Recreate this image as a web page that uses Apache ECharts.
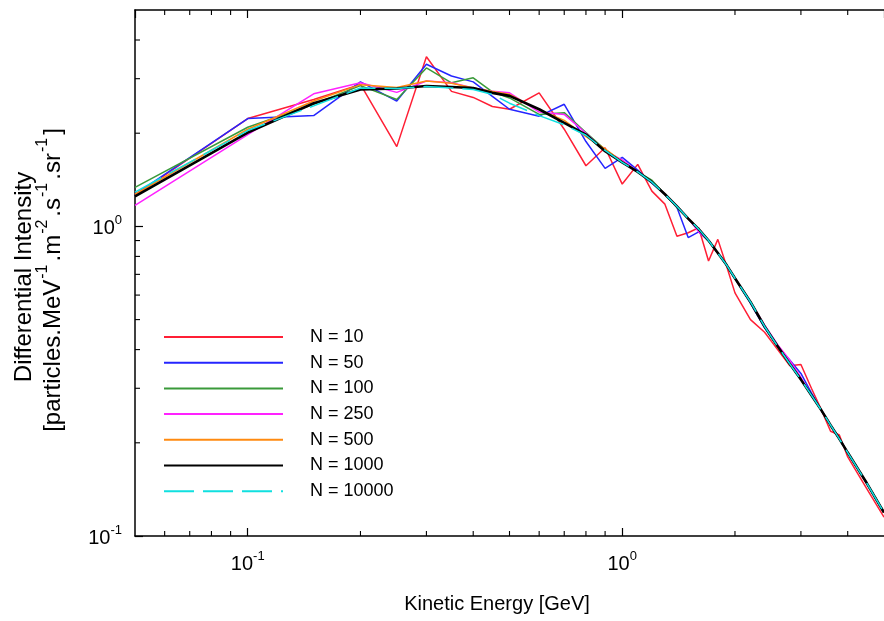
<!DOCTYPE html>
<html>
<head>
<meta charset="utf-8">
<script src="https://cdn.jsdelivr.net/npm/echarts@6/dist/echarts.min.js"></script>
<style>
  html, body { margin: 0; padding: 0; background: #ffffff; }
  #chart { width: 884px; height: 621px; }
</style>
</head>
<body>
<div id="chart"></div>
<script>
// Kinetic energy bins [GeV]
const energies = [0.05, 0.1, 0.15, 0.2, 0.25, 0.3, 0.35, 0.4, 0.45, 0.5, 0.6, 0.7, 0.8, 0.9,
  1.0, 1.1, 1.2, 1.3, 1.4, 1.5, 1.6, 1.7, 1.8, 1.9, 2.0, 2.2, 2.4, 2.6, 2.8, 3.0,
  3.2, 3.4, 3.6, 3.8, 4.0, 4.5, 5.0];

// Differential intensity for each sample size N
const n10 = [1.26, 2.23, 2.57, 2.875, 1.81, 3.53, 2.73, 2.61, 2.44, 2.39, 2.70, 2.06, 1.57, 1.795,
  1.37, 1.586, 1.30, 1.18, 0.93, 0.954, 0.99, 0.773, 0.908, 0.744, 0.61, 0.50, 0.455, 0.40, 0.355, 0.358,
  0.30, 0.256, 0.218, 0.212, 0.18, 0.142, 0.115];
const n50 = [1.27, 2.23, 2.28, 2.93, 2.54, 3.34, 3.06, 2.93, 2.63, 2.39, 2.27, 2.48, 1.88, 1.54,
  1.67, 1.52, 1.38, 1.27, 1.15, 0.92, 0.96, 0.90, 0.82, 0.75, 0.68, 0.565, 0.47, 0.41, 0.37, 0.335,
  0.29, 0.255, 0.228, 0.206, 0.186, 0.148, 0.119];
const n100 = [1.336, 2.09, 2.48, 2.85, 2.57, 3.25, 2.91, 3.02, 2.72, 2.60, 2.30, 2.33, 2.01, 1.77,
  1.62, 1.50, 1.41, 1.27, 1.15, 1.06, 0.98, 0.90, 0.82, 0.75, 0.68, 0.57, 0.475, 0.41, 0.36, 0.32,
  0.285, 0.255, 0.228, 0.206, 0.186, 0.148, 0.119];
const n250 = [1.17, 1.98, 2.68, 2.91, 2.71, 2.95, 2.91, 2.80, 2.73, 2.70, 2.34, 2.30, 2.00, 1.75,
  1.64, 1.50, 1.39, 1.27, 1.16, 1.06, 0.96, 0.90, 0.82, 0.75, 0.68, 0.57, 0.48, 0.415, 0.37, 0.325,
  0.285, 0.255, 0.228, 0.206, 0.186, 0.148, 0.119];
const n500 = [1.27, 2.06, 2.54, 2.87, 2.81, 2.95, 2.90, 2.80, 2.73, 2.67, 2.38, 2.20, 1.95, 1.78,
  1.62, 1.50, 1.39, 1.27, 1.16, 1.06, 0.98, 0.90, 0.82, 0.75, 0.68, 0.57, 0.475, 0.41, 0.36, 0.32,
  0.285, 0.255, 0.228, 0.206, 0.186, 0.148, 0.119];
const n1000 = [1.25, 2.01, 2.50, 2.77, 2.79, 2.84, 2.82, 2.80, 2.70, 2.64, 2.39, 2.16, 1.98, 1.75,
  1.61, 1.50, 1.39, 1.27, 1.16, 1.06, 0.98, 0.90, 0.82, 0.75, 0.68, 0.57, 0.475, 0.41, 0.36, 0.32,
  0.285, 0.255, 0.228, 0.206, 0.186, 0.148, 0.119];
const n10000 = [1.29, 2.04, 2.45, 2.80, 2.79, 2.83, 2.80, 2.77, 2.67, 2.50, 2.28, 2.13, 1.97, 1.76,
  1.61, 1.50, 1.39, 1.27, 1.16, 1.06, 0.98, 0.90, 0.82, 0.75, 0.68, 0.57, 0.475, 0.41, 0.36, 0.32,
  0.285, 0.255, 0.228, 0.206, 0.186, 0.148, 0.119];

const seriesNames = ['N = 10', 'N = 50', 'N = 100', 'N = 250', 'N = 500', 'N = 1000', 'N = 10000'];
const seriesValues = [n10, n50, n100, n250, n500, n1000, n10000];
const seriesColors = ['#ff1f35', '#2525ff', '#3a9a3a', '#ff22ff', '#ff8a10', '#000000', '#10e0e0'];

// Axis ranges and tick positions
const xRange = [0.05, 5];
const yRange = [0.1, 5];
const xMinorTicks = [0.06, 0.07, 0.08, 0.09, 0.2, 0.3, 0.4, 0.5, 0.6, 0.7, 0.8, 0.9, 2, 3, 4];
const yMinorTicks = [0.2, 0.3, 0.4, 0.5, 0.6, 0.7, 0.8, 0.9, 2, 3, 4];

const FONT = '"Liberation Sans", Arial, Helvetica, sans-serif';

function powerLabel(v) {
  const lg = Math.log10(v);
  const e = Math.round(lg);
  if (Math.abs(lg - e) > 1e-6) return '';
  return '{b|10}{s|' + e + '}';
}

const powerRich = {
  b: { fontSize: 20, fontFamily: FONT, color: '#000', lineHeight: 24, verticalAlign: 'bottom' },
  s: { fontSize: 13, fontFamily: FONT, color: '#000', lineHeight: 13, verticalAlign: 'top' }
};

const axisLineStyle = { color: '#000', width: 1.5 };
const majorTick = { show: true, inside: true, length: 8, lineStyle: { color: '#000', width: 1.2 } };

const chart = echarts.init(document.getElementById('chart'), null, { renderer: 'canvas' });

const option = {
  animation: false,
  backgroundColor: '#ffffff',
  grid: { left: 135, top: 10, right: -7, bottom: 85, containLabel: false },
  xAxis: [
    {
      type: 'log', logBase: 10, min: xRange[0], max: xRange[1], position: 'bottom',
      axisLine: { show: true, lineStyle: axisLineStyle },
      axisTick: majorTick,
      axisLabel: { formatter: powerLabel, margin: 14, rich: powerRich, showMinLabel: false, showMaxLabel: false },
      splitLine: { show: false }
    },
    {
      type: 'log', logBase: 10, min: xRange[0], max: xRange[1], position: 'top',
      axisLine: { show: true, lineStyle: axisLineStyle },
      axisTick: majorTick,
      axisLabel: { show: false },
      splitLine: { show: false }
    }
  ],
  yAxis: [
    {
      type: 'log', logBase: 10, min: yRange[0], max: yRange[1], position: 'left',
      axisLine: { show: true, lineStyle: axisLineStyle },
      axisTick: majorTick,
      axisLabel: { formatter: powerLabel, margin: 13, rich: powerRich, showMaxLabel: false },
      splitLine: { show: false }
    }
  ],
  legend: {
    orient: 'vertical',
    left: 163,
    top: 327,
    padding: 0,
    itemWidth: 119,
    itemHeight: 20,
    itemGap: 5.7,
    itemStyle: { opacity: 0 },
    textStyle: { fontSize: 18, fontFamily: FONT, color: '#000', lineHeight: 20, padding: [0, 0, 0, 22] },
    data: seriesNames
  },
  series: seriesNames.map((name, i) => ({
    name: name,
    type: 'line',
    xAxisIndex: 0,
    yAxisIndex: 0,
    symbol: 'none',
    showSymbol: false,
    z: 2 + i,
    data: energies.map((e, k) => [e, seriesValues[i][k]]),
    itemStyle: { color: seriesColors[i] },
    lineStyle: {
      color: seriesColors[i],
      width: name === 'N = 1000' ? 2.6 : 1.5,
      type: name === 'N = 10000' ? [30, 9] : 'solid'
    }
  }))
};

chart.setOption(option);

// Minor ticks on the log axes and the axis titles
function minorTickGraphics() {
  const items = [];
  const yBottom = chart.convertToPixel({ yAxisIndex: 0 }, yRange[0]);
  const yTop = chart.convertToPixel({ yAxisIndex: 0 }, yRange[1]);
  const xLeft = chart.convertToPixel({ xAxisIndex: 0 }, xRange[0]);
  const tickStyle = { stroke: '#000', lineWidth: 1.1 };
  xMinorTicks.forEach(v => {
    const px = chart.convertToPixel({ xAxisIndex: 0 }, v);
    items.push({ type: 'line', silent: true, shape: { x1: px, y1: yBottom, x2: px, y2: yBottom - 5 }, style: tickStyle });
    items.push({ type: 'line', silent: true, shape: { x1: px, y1: yTop, x2: px, y2: yTop + 5 }, style: tickStyle });
  });
  yMinorTicks.forEach(v => {
    const py = chart.convertToPixel({ yAxisIndex: 0 }, v);
    items.push({ type: 'line', silent: true, shape: { x1: xLeft, y1: py, x2: xLeft + 5, y2: py }, style: tickStyle });
  });
  return items;
}

const titles = [
  {
    type: 'text', silent: true, x: 497, y: 604,
    style: { text: 'Kinetic Energy [GeV]', fontSize: 20, fontFamily: FONT, fill: '#000', align: 'center', verticalAlign: 'middle' }
  },
  {
    type: 'text', silent: true, x: 24, y: 277, rotation: Math.PI / 2,
    style: { text: 'Differential Intensity', fontSize: 24, fontFamily: FONT, fill: '#000', align: 'center', verticalAlign: 'middle' }
  },
  {
    type: 'text', silent: true, x: 50, y: 280, rotation: Math.PI / 2,
    style: {
      text: '{b|[particles.MeV}{s|-1}{b|.m}{s|-2}{b|.s}{s|-1}{b|.sr}{s|-1}{b|]}',
      align: 'center', verticalAlign: 'middle',
      rich: {
        b: { fontSize: 24, fontFamily: FONT, fill: '#000', lineHeight: 30, verticalAlign: 'bottom' },
        s: { fontSize: 16, fontFamily: FONT, fill: '#000', lineHeight: 16, verticalAlign: 'top', padding: [0, 3, 0, 1] }
      }
    }
  }
];

chart.setOption({ graphic: minorTickGraphics().concat(titles) });
</script>
</body>
</html>
